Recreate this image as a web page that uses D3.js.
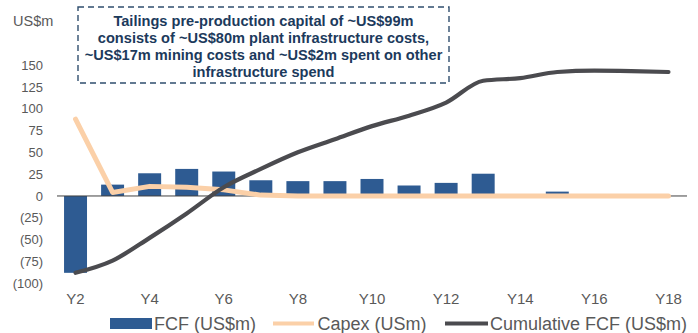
<!DOCTYPE html>
<html>
<head>
<meta charset="utf-8">
<script src="https://cdn.jsdelivr.net/npm/d3@7"></script>
<style>
  html, body { margin: 0; padding: 0; background: #ffffff; }
  svg { display: block; font-family: "Liberation Sans", Arial, sans-serif; }
</style>
</head>
<body>
<svg id="chart" width="698" height="333"></svg>
<script>
// Project years
const years = ["Y2","Y3","Y4","Y5","Y6","Y7","Y8","Y9","Y10","Y11","Y12","Y13","Y14","Y15","Y16","Y17","Y18"];
// Free cash flow per year (US$m)
const fcf = [-88, 13, 26, 31, 28, 18, 17, 17, 19.5, 12, 15, 25.5, 0, 5, 0, 0, 0];
// Capex per year (US$m)
const capex = [88, 4, 11, 10, 7, 1, 0, 0, 0, 0, 0, 0, 0, 0, 0, 0, 0];
// Cumulative free cash flow (US$m)
const cumulative = [-88, -74, -48, -20, 10, 31, 50, 65, 80, 92, 107, 132, 135, 142, 143.5, 143, 142];
// Axis ticks
const yTicks = [-100, -75, -50, -25, 0, 25, 50, 75, 100, 125, 150];
const xTickLabels = ["Y2","Y4","Y6","Y8","Y10","Y12","Y14","Y16","Y18"];
// Text
const unitLabel = "US$m";
const noteLines = [
  "Tailings pre-production capital of ~US$99m",
  "consists of ~US$80m plant infrastructure costs,",
  "~US$17m mining costs and ~US$2m spent on other",
  "infrastructure spend"
];
const legendItems = [
  { name: "FCF (US$m)", kind: "bar" },
  { name: "Capex (USm)", kind: "capex" },
  { name: "Cumulative FCF (US$m)", kind: "cum" }
];

const colors = { bar: "#2e5b92", capex: "#fbd0a8", cum: "#4b4b4f", text: "#595959", note: "#1c3a5c" };

const svg = d3.select("#chart");

const x = d3.scaleBand().domain(years).range([57, 687]).paddingInner(0.38).paddingOuter(0.19);
const y = d3.scaleLinear().domain([-100, 150]).range([283.3, 65]);

const fmt = v => v < 0 ? "(" + Math.abs(v) + ")" : String(v);

// Y axis labels (no axis line)
const yAxis = d3.axisLeft(y).tickValues(yTicks).tickFormat(fmt).tickSize(0).tickPadding(0);
const gy = svg.append("g").attr("transform", "translate(43,0)").call(yAxis);
gy.select(".domain").remove();
gy.selectAll("text").attr("fill", colors.text).style("font-size", "13px")
  .style("font-family", "'Liberation Sans', Arial, sans-serif");

// X axis labels
const xAxis = d3.axisBottom(x).tickValues(xTickLabels).tickSize(0).tickPadding(0);
const gx = svg.append("g").attr("transform", "translate(0,293.5)").call(xAxis);
gx.select(".domain").remove();
gx.selectAll("text").attr("fill", colors.text).style("font-size", "15px")
  .style("font-family", "'Liberation Sans', Arial, sans-serif");

// Unit label
svg.append("text").attr("x", 13).attr("y", 26).attr("fill", colors.text)
  .style("font-size", "14.5px").text(unitLabel);

// FCF bars
svg.append("g").selectAll("rect").data(years).join("rect")
  .attr("x", d => x(d))
  .attr("width", x.bandwidth())
  .attr("y", (d, i) => y(Math.max(0, fcf[i])))
  .attr("height", (d, i) => Math.abs(y(fcf[i]) - y(0)))
  .attr("fill", colors.bar);

// Zero line
svg.append("line").attr("x1", 57).attr("x2", 687).attr("y1", y(0)).attr("y2", y(0))
  .attr("stroke", "#404040").attr("stroke-width", 1);

const cx = d => x(d) + x.bandwidth() / 2;

// Capex line
svg.append("path")
  .datum(years.map((d, i) => [cx(d), y(capex[i])]))
  .attr("fill", "none").attr("stroke", colors.capex).attr("stroke-width", 5)
  .attr("stroke-linejoin", "round").attr("stroke-linecap", "round")
  .attr("d", d3.line());

// Cumulative FCF line
svg.append("path")
  .datum(years.map((d, i) => [cx(d), y(cumulative[i])]))
  .attr("fill", "none").attr("stroke", colors.cum).attr("stroke-width", 4.2)
  .attr("stroke-linejoin", "round").attr("stroke-linecap", "round")
  .attr("d", d3.line().curve(d3.curveMonotoneX));

// Annotation box
svg.append("rect").attr("x", 78).attr("y", 7).attr("width", 371).attr("height", 76)
  .attr("fill", "none").attr("stroke", "#2f4e6e").attr("stroke-width", 1.4)
  .attr("stroke-dasharray", "6,4");
svg.append("g").selectAll("text").data(noteLines).join("text")
  .attr("x", 263.5).attr("y", (d, i) => 25.5 + i * 17.3)
  .attr("text-anchor", "middle").attr("fill", colors.note)
  .style("font-size", "14.6px").style("font-weight", "bold").text(d => d);

// Legend
const lg = svg.append("g");
const legendPos = [
  { sx: 110, sw: 42, tx: 154 },
  { sx: 273, sw: 41, tx: 317.5 },
  { sx: 445, sw: 43, tx: 490 }
];
legendItems.forEach((item, i) => {
  const p = legendPos[i];
  if (item.kind === "bar") {
    lg.append("rect").attr("x", p.sx).attr("y", 318).attr("width", p.sw).attr("height", 11).attr("fill", colors.bar);
  } else {
    lg.append("line").attr("x1", p.sx).attr("x2", p.sx + p.sw).attr("y1", 323.5).attr("y2", 323.5)
      .attr("stroke", colors[item.kind]).attr("stroke-width", 4);
  }
  lg.append("text").attr("x", p.tx).attr("y", 330).attr("fill", colors.text)
    .style("font-size", "18px").text(item.name);
});
</script>
</body>
</html>
